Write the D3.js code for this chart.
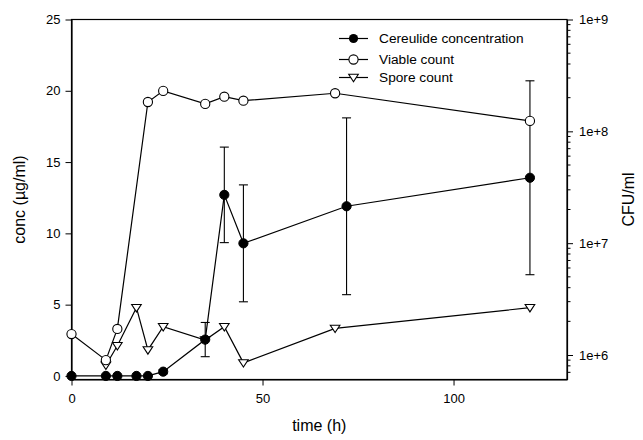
<!DOCTYPE html>
<html><head><meta charset="utf-8">
<script src="https://cdn.jsdelivr.net/npm/d3@7"></script>
<style>
html,body{margin:0;padding:0;background:#fff;}
svg{display:block;font-family:"Liberation Sans",Arial,sans-serif;}
</style></head>
<body><svg id="c" width="643" height="440"></svg>
<script>
// ---- data ----
const timeCer = [0, 9, 12, 17, 20, 24, 35, 40, 45, 72, 120];
const cereulide = [0, 0, 0, 0, 0, 0.3, 2.55, 12.7, 9.3, 11.9, 13.9];
const cereulideErr = [0, 0, 0, 0, 0, 0.15, 1.2, 3.35, 4.1, 6.2, 6.8];
const timeViable = [0, 9, 12, 20, 24, 35, 40, 45, 69, 120];
const viable = [1.54e6, 9.0e5, 1.71e6, 1.83e8, 2.30e8, 1.76e8, 2.04e8, 1.88e8, 2.19e8, 1.24e8];
const timeSpore = [9, 12, 17, 20, 24, 35, 40, 45, 69, 120];
const spore = [8.1e5, 1.21e6, 2.65e6, 1.11e6, 1.79e6, 1.36e6, 1.79e6, 8.5e5, 1.73e6, 2.65e6];
const xTicks = [0, 50, 100];
const yLeftTicks = [0, 5, 10, 15, 20, 25];
const yRightTicks = [1e6, 1e7, 1e8, 1e9];
const legendLabels = ["Cereulide concentration", "Viable count", "Spore count"];

// ---- layout ----
const L = 71.5, R = 567, T = 19.5, B = 379.5;
const svg = d3.select("#c");
const x = d3.scaleLinear().domain([0, 129.7]).range([L, R]);
const yL = d3.scaleLinear().domain([-0.25, 25]).range([B, T]);
const yR = d3.scaleLog().domain([6.04e5, 1e9]).range([B, T]);

// frame
svg.append("rect").attr("x", L).attr("y", T).attr("width", R - L).attr("height", B - T)
  .attr("fill", "none").attr("stroke", "#000").attr("stroke-width", 1.2);

// left axis
const gL = svg.append("g").attr("transform", `translate(${L},0)`)
  .call(d3.axisLeft(yL).tickValues(yLeftTicks).tickSize(6).tickSizeOuter(0).tickPadding(5));
// bottom axis
const gB = svg.append("g").attr("transform", `translate(0,${B})`)
  .call(d3.axisBottom(x).tickValues(xTicks).tickSize(6).tickSizeOuter(0).tickPadding(8));
// right axis with minor ticks
const minor = [];
for (let e = 5; e < 9; e++) for (let m = 2; m <= 9; m++) {
  const v = m * Math.pow(10, e);
  if (v >= yR.domain()[0] && v <= 1e9) minor.push(v);
}
const gR = svg.append("g").attr("transform", `translate(${R},0)`)
  .call(d3.axisRight(yR).tickValues(yRightTicks).tickSize(6).tickSizeOuter(0).tickPadding(6)
    .tickFormat(d => "1e+" + Math.round(Math.log10(d))));
gR.selectAll(".minor").data(minor).enter().append("line").attr("class", "minor")
  .attr("x1", 0).attr("x2", 3.5).attr("y1", d => yR(d)).attr("y2", d => yR(d))
  .attr("stroke", "#000");

[gL, gB, gR].forEach(g => {
  g.select(".domain").attr("stroke", "#000").attr("stroke-width", 1.2);
  g.selectAll(".tick line").attr("stroke", "#000");
  g.selectAll("text").attr("font-size", 13).attr("font-family", "Liberation Sans, Arial, sans-serif").attr("fill", "#000");
});

// axis titles
svg.append("text").attr("transform", `translate(25,${(T + B) / 2}) rotate(-90)`)
  .attr("text-anchor", "middle").attr("font-size", 16).text("conc (µg/ml)");
svg.append("text").attr("x", (L + R) / 2).attr("y", 431)
  .attr("text-anchor", "middle").attr("font-size", 16).text("time (h)");
svg.append("text").attr("transform", `translate(634,${(T + B) / 2}) rotate(-90)`)
  .attr("text-anchor", "middle").attr("font-size", 16).text("CFU/ml");

// lines
const cerData = timeCer.map((t, i) => ({ t, v: cereulide[i], e: cereulideErr[i] }));
const viaData = timeViable.map((t, i) => ({ t, v: viable[i] }));
const spoData = timeSpore.map((t, i) => ({ t, v: spore[i] }));

const line = (sy) => d3.line().x(d => x(d.t)).y(d => sy(d.v));
svg.append("path").datum(spoData).attr("d", line(yR)).attr("fill", "none").attr("stroke", "#000").attr("stroke-width", 1.2);
svg.append("path").datum(viaData).attr("d", line(yR)).attr("fill", "none").attr("stroke", "#000").attr("stroke-width", 1.2);
svg.append("path").datum(cerData).attr("d", line(yL)).attr("fill", "none").attr("stroke", "#000").attr("stroke-width", 1.2);

// error bars
const eb = svg.append("g").attr("stroke", "#000").attr("stroke-width", 1.1);
cerData.filter(d => d.e > 0).forEach(d => {
  const cx = x(d.t), y1 = yL(d.v - d.e), y2 = yL(d.v + d.e);
  eb.append("line").attr("x1", cx).attr("x2", cx).attr("y1", y1).attr("y2", y2);
  eb.append("line").attr("x1", cx - 4.5).attr("x2", cx + 4.5).attr("y1", y1).attr("y2", y1);
  eb.append("line").attr("x1", cx - 4.5).attr("x2", cx + 4.5).attr("y1", y2).attr("y2", y2);
});

// markers
const tri = "M-4.8,-3.2L4.8,-3.2L0,4.2Z";
svg.append("g").selectAll("path").data(spoData).enter().append("path")
  .attr("d", tri).attr("transform", d => `translate(${x(d.t)},${yR(d.v)})`)
  .attr("fill", "#fff").attr("stroke", "#000").attr("stroke-width", 1.1);
svg.append("g").selectAll("circle").data(viaData).enter().append("circle")
  .attr("cx", d => x(d.t)).attr("cy", d => yR(d.v)).attr("r", 4.6)
  .attr("fill", "#fff").attr("stroke", "#000").attr("stroke-width", 1.1);
svg.append("g").selectAll("circle").data(cerData).enter().append("circle")
  .attr("cx", d => x(d.t)).attr("cy", d => yL(d.v)).attr("r", 4.6)
  .attr("fill", "#000").attr("stroke", "#000");

// legend
const lg = svg.append("g").attr("transform", "translate(339,0)");
const rows = [38.5, 59.5, 77.5];
legendLabels.forEach((lab, i) => {
  const y = rows[i];
  lg.append("line").attr("x1", 0).attr("x2", 29).attr("y1", y).attr("y2", y).attr("stroke", "#000").attr("stroke-width", 1.2);
  if (i === 0) lg.append("circle").attr("cx", 14.5).attr("cy", y).attr("r", 4.6).attr("fill", "#000");
  if (i === 1) lg.append("circle").attr("cx", 14.5).attr("cy", y).attr("r", 4.6).attr("fill", "#fff").attr("stroke", "#000").attr("stroke-width", 1.1);
  if (i === 2) lg.append("path").attr("d", tri).attr("transform", `translate(14.5,${y})`).attr("fill", "#fff").attr("stroke", "#000").attr("stroke-width", 1.1);
  lg.append("text").attr("x", 40).attr("y", y + 4.8).attr("font-size", 13.7).text(lab);
});
</script></body></html>
